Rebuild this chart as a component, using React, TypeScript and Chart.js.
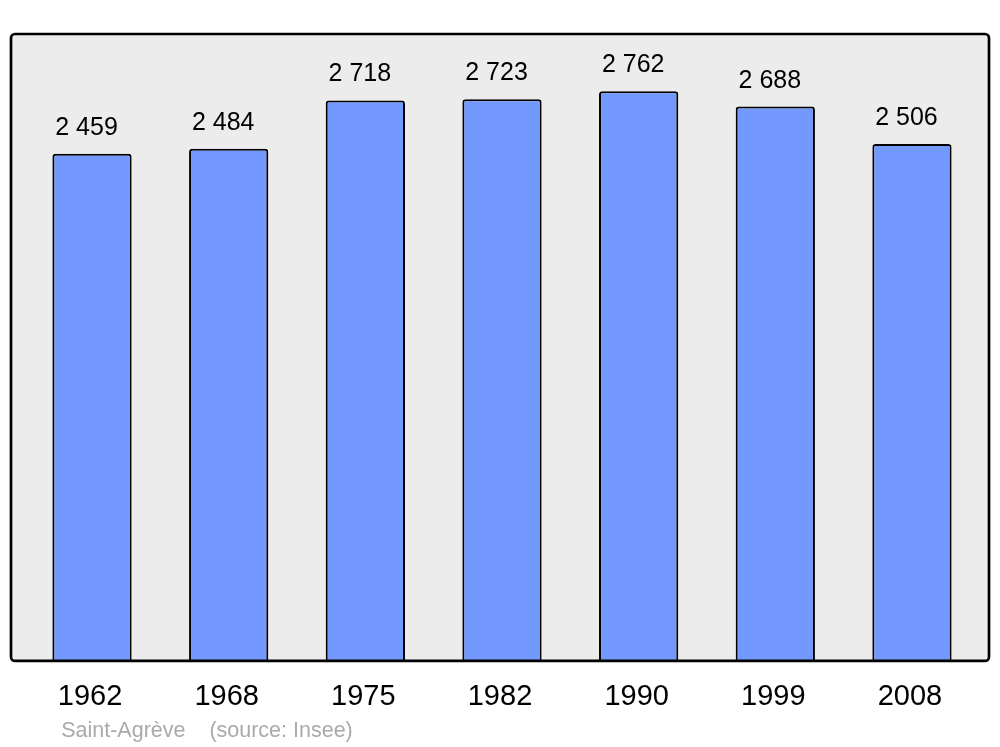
import React, { useEffect, useRef } from "react";
import { Chart, registerables } from "chart.js";

Chart.register(...registerables);

const years = ["1962", "1968", "1975", "1982", "1990", "1999", "2008"];
const population = [2459, 2484, 2718, 2723, 2762, 2688, 2506];
const footerText = "Saint-Agrève    (source: Insee)";

const fmt = (v: number) => {
  const s = String(v);
  return s.replace(/\B(?=(\d{3})+(?!\d))/g, " ");
};

const framePlugin = {
  id: "frame",
  beforeDraw(chart: any) {
    const { ctx, chartArea } = chart;
    const l = chartArea.left - 12.7;
    const r = chartArea.right + 8.7;
    const t = chartArea.top;
    const b = chartArea.bottom;
    ctx.save();
    ctx.beginPath();
    ctx.roundRect(l, t, r - l, b - t, 4);
    ctx.fillStyle = "#ececec";
    ctx.fill();
    ctx.restore();
  },
  afterDatasetsDraw(chart: any) {
    const { ctx, chartArea } = chart;
    const l = chartArea.left - 12.7;
    const r = chartArea.right + 8.7;
    const t = chartArea.top;
    const b = chartArea.bottom;
    ctx.save();
    ctx.beginPath();
    ctx.roundRect(l, t, r - l, b - t, 4);
    ctx.lineWidth = 2.7;
    ctx.strokeStyle = "#000";
    ctx.stroke();
    // value labels
    const meta = chart.getDatasetMeta(0);
    ctx.fillStyle = "#000";
    ctx.font = "25px 'Liberation Sans', Arial, sans-serif";
    ctx.textAlign = "center";
    ctx.textBaseline = "alphabetic";
    meta.data.forEach((bar: any, i: number) => {
      ctx.fillText(fmt(population[i]), bar.x - 5.5, bar.y - 19);
    });
    // footer
    ctx.fillStyle = "#aaaaaa";
    ctx.font = "21.5px 'Liberation Sans', Arial, sans-serif";
    ctx.textAlign = "left";
    ctx.fillText(footerText, chartArea.left + 37.5, 737);
    ctx.restore();
  },
};

export default function App() {
  const ref = useRef<HTMLCanvasElement>(null);
  useEffect(() => {
    if (!ref.current) return;
    const chart = new Chart(ref.current, {
      type: "bar",
      data: {
        labels: years,
        datasets: [
          {
            data: population,
            backgroundColor: "#7399ff",
            borderColor: "#000",
            borderWidth: 2,
            borderRadius: { topLeft: 3, topRight: 3, bottomLeft: 0, bottomRight: 0 },
            borderSkipped: "bottom",
            categoryPercentage: 1,
            barPercentage: 0.58,
          },
        ],
      },
      options: {
        responsive: false,
        animation: false,
        layout: { padding: { left: 23.7, right: 19.7, top: 34, bottom: 22.3 } },
        plugins: { legend: { display: false }, tooltip: { enabled: false }, title: { display: false } },
        scales: {
          x: {
            offset: true,
            grid: { display: false },
            border: { display: false },
            ticks: {
              color: "#000",
              padding: 10.5,
              labelOffset: -2,
              maxRotation: 0,
              font: { size: 29, family: "'Liberation Sans', Arial, sans-serif" },
            },
          },
          y: {
            display: false,
            min: 0,
            max: 3040,
          },
        },
      },
      plugins: [framePlugin],
    });
    return () => chart.destroy();
  }, []);
  return (
    <div style={{ position: "absolute", left: 0, top: 0, width: 1000, height: 747, background: "#fff" }}>
      <canvas ref={ref} width={1000} height={747} />
    </div>
  );
}
